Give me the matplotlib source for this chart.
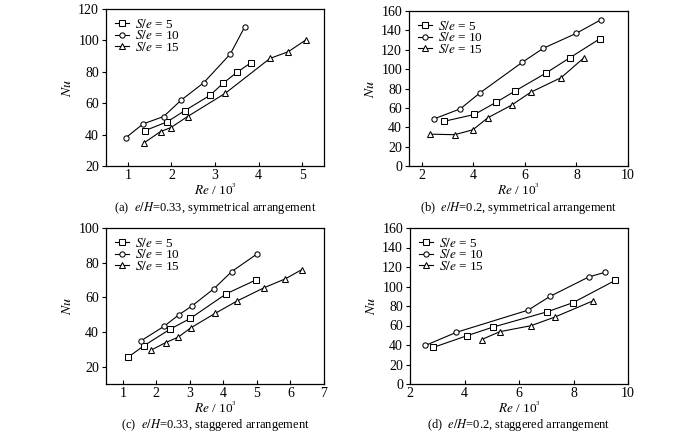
import matplotlib
matplotlib.use("Agg")
import matplotlib.pyplot as plt

plt.rcParams['font.family'] = ['Liberation Serif', 'DejaVu Serif']
plt.rcParams['mathtext.fontset'] = 'stix'
plt.rcParams['font.size'] = 9

series_labels = [r'$S/e$ = 5', r'$S/e$ = 10', r'$S/e$ = 15']
markers = ['s', 'o', '^']

# Panel (a): e/H=0.33, symmetrical
a_re5 = [1.40, 1.90, 2.31, 2.89, 3.18, 3.51, 3.82]
a_nu5 = [42.6, 48.1, 55.3, 65.1, 72.6, 79.8, 85.7]
a_re10 = [0.95, 1.35, 1.82, 2.23, 2.74, 3.35, 3.68]
a_nu10 = [37.9, 46.8, 51.5, 62.1, 73.0, 91.3, 108.5]
a_re15 = [1.38, 1.75, 1.99, 2.37, 3.24, 4.26, 4.68, 5.09]
a_nu15 = [34.9, 41.9, 44.5, 51.5, 66.4, 88.5, 92.8, 100.4]

# Panel (b): e/H=0.2, symmetrical
b_re5 = [2.84, 4.04, 4.89, 5.63, 6.80, 7.73, 8.91]
b_nu5 = [46.0, 53.2, 65.9, 77.6, 95.7, 111.5, 131.4]
b_re10 = [2.48, 3.49, 4.27, 5.90, 6.71, 7.99, 8.95]
b_nu10 = [48.7, 59.0, 75.8, 107.1, 121.5, 136.9, 151.0]
b_re15 = [2.31, 3.27, 3.98, 4.56, 5.48, 6.23, 7.41, 8.28]
b_nu15 = [32.9, 32.3, 37.4, 49.8, 62.8, 76.2, 91.3, 111.5]

# Panel (c): e/H=0.33, staggered
c_re5 = [1.16, 1.64, 2.40, 3.01, 4.09, 4.98]
c_nu5 = [25.5, 32.2, 41.5, 47.8, 62.1, 70.1]
c_re10 = [1.55, 2.24, 2.67, 3.06, 3.72, 4.25, 5.01]
c_nu10 = [35.0, 43.4, 49.9, 55.0, 65.0, 74.9, 85.1]
c_re15 = [1.84, 2.28, 2.66, 3.02, 3.75, 4.41, 5.21, 5.85, 6.34]
c_nu15 = [29.5, 33.9, 37.1, 42.3, 50.7, 57.9, 65.5, 70.7, 76.0]

# Panel (d): e/H=0.2, staggered
d_re5 = [2.85, 4.11, 5.05, 7.03, 7.98, 9.54]
d_nu5 = [37.5, 49.7, 58.4, 74.0, 83.4, 106.4]
d_re10 = [2.56, 3.70, 6.33, 7.14, 8.56, 9.15]
d_nu10 = [39.5, 53.0, 75.7, 89.9, 109.8, 114.5]
d_re15 = [4.63, 5.30, 6.44, 7.31, 8.70]
d_nu15 = [45.6, 53.7, 59.8, 68.6, 85.1]

captions = [r'(a)  $e/H$=0.33, symmetrical arrangement',
            r'(b)  $e/H$=0.2, symmetrical arrangement',
            r'(c)  $e/H$=0.33, staggered arrangement',
            r'(d)  $e/H$=0.2, staggered arrangement']

panels = [
    ([(a_re5, a_nu5), (a_re10, a_nu10), (a_re15, a_nu15)], (0.5, 5.5), [1, 2, 3, 4, 5], (20, 120), [20, 40, 60, 80, 100, 120]),
    ([(b_re5, b_nu5), (b_re10, b_nu10), (b_re15, b_nu15)], (1.5, 10), [2, 4, 6, 8, 10], (0, 160), list(range(0, 161, 20))),
    ([(c_re5, c_nu5), (c_re10, c_nu10), (c_re15, c_nu15)], (0.5, 7), [1, 2, 3, 4, 5, 6, 7], (10, 100), [20, 40, 60, 80, 100]),
    ([(d_re5, d_nu5), (d_re10, d_nu10), (d_re15, d_nu15)], (2, 10), [2, 4, 6, 8, 10], (0, 160), list(range(0, 161, 20))),
]

W, H = 700, 437
rects = [(106, 9, 324, 166), (409, 11, 628, 166), (106, 228, 324, 384), (410, 228, 628, 384)]
cap_off = [42, 42, 41, 41]   # caption centre below axes bottom, in pixels

fig = plt.figure(figsize=(7, 4.37), dpi=100)
for i, (data, xlim, xt, ylim, yt) in enumerate(panels):
    x0, y0, x1, y1 = rects[i]
    ax = fig.add_axes([x0 / W, 1 - y1 / H, (x1 - x0) / W, (y1 - y0) / H])
    for (xs, ys), m, lab in zip(data, markers, series_labels):
        ax.plot(xs, ys, color='black', lw=0.8, marker=m, ms=3.8,
                mfc='white', mec='black', mew=0.75, label=lab)
    ax.set_xlim(*xlim)
    ax.set_ylim(*ylim)
    ax.set_xticks(xt)
    ax.set_yticks(yt)
    ax.tick_params(axis='x', direction='in', length=3, width=0.8, pad=2, labelsize=10)
    ax.tick_params(axis='y', direction='out', length=3, width=0.8, pad=2, labelsize=10)
    for s in ax.spines.values():
        s.set_linewidth(0.9)
    ax.set_ylabel(r'$Nu$', fontsize=10, labelpad=3)
    ax.set_xlabel(r'$Re$ / 10$^{\mathregular{^3}}$', fontsize=9.5, labelpad=0)
    ax.legend(loc='upper left', frameon=False, fontsize=9.5, handlelength=1.1,
              handletextpad=0.45, labelspacing=-0.1, borderaxespad=0.45,
              borderpad=0.2)
    ax.annotate(captions[i], xy=(0.5, 0), xycoords='axes fraction',
                xytext=(0, -cap_off[i] * 72 / 100), textcoords='offset points',
                ha='center', va='center', fontsize=9)

fig.savefig('out.png', dpi=100)
